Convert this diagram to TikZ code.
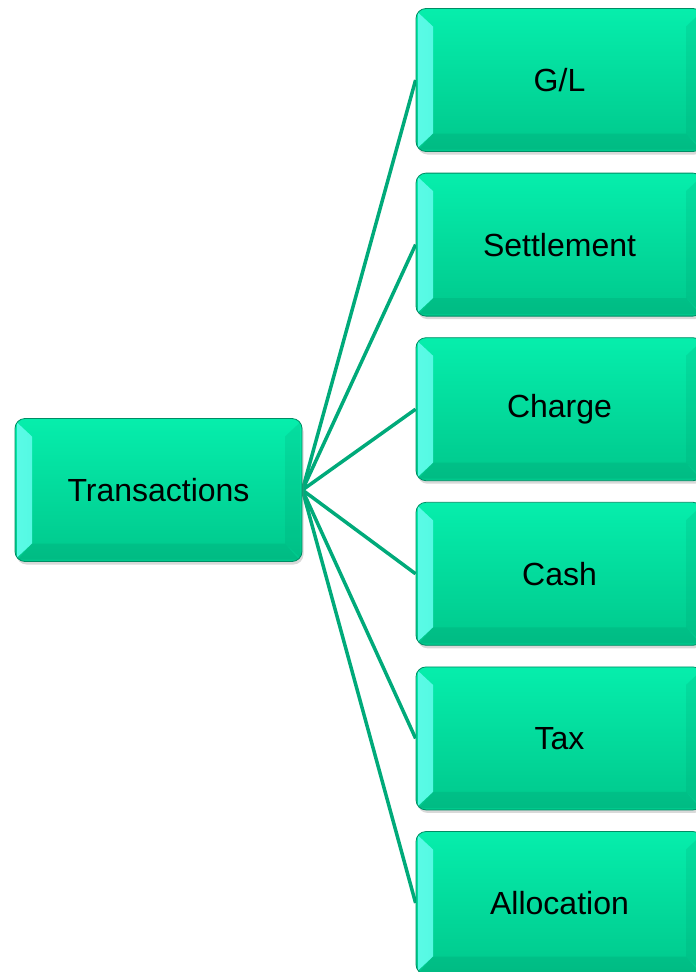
\documentclass[tikz,border=0pt]{standalone}
\usepackage{fontspec}
\setmainfont{Liberation Sans}
\usetikzlibrary{positioning, shadows, backgrounds}
\definecolor{Ctop}{RGB}{6,238,172}
\definecolor{Cbot}{RGB}{0,200,140}
\definecolor{Cbdr}{RGB}{0,140,100}
\definecolor{Cedge}{RGB}{90,250,230}
\definecolor{Clink}{RGB}{0,170,122}
\tikzset{
  B/.style={
    draw=Cbdr, line width=0.8pt, top color=Ctop, bottom color=Cbot,
    rounded corners=10pt, minimum width=287pt, minimum height=143pt,
    inner sep=0pt, font=\fontsize{32}{36}\selectfont,
    drop shadow={shadow xshift=1.5pt, shadow yshift=-3pt, opacity=0.3},
    path picture={
      % left bevel
      \shade[sharp corners, left color=Cedge, right color=Ctop]
        ([xshift=2pt,yshift=-4pt]path picture bounding box.north west)
        -- ([xshift=17pt,yshift=-18pt]path picture bounding box.north west)
        -- ([xshift=17pt,yshift=18pt]path picture bounding box.south west)
        -- ([xshift=2pt,yshift=4pt]path picture bounding box.south west) -- cycle;
      % right bevel
      \fill[sharp corners, Cbdr, opacity=0.15]
        ([xshift=-2pt,yshift=-4pt]path picture bounding box.north east)
        -- ([xshift=-17pt,yshift=-18pt]path picture bounding box.north east)
        -- ([xshift=-17pt,yshift=18pt]path picture bounding box.south east)
        -- ([xshift=-2pt,yshift=4pt]path picture bounding box.south east) -- cycle;
      % bottom bevel
      \fill[sharp corners, Cbdr, opacity=0.2]
        ([xshift=17pt,yshift=18pt]path picture bounding box.south west)
        -- ([xshift=-17pt,yshift=18pt]path picture bounding box.south east)
        -- ([xshift=-3pt,yshift=2pt]path picture bounding box.south east)
        -- ([xshift=3pt,yshift=2pt]path picture bounding box.south west) -- cycle;
    }
  },
  ln/.style={draw=Clink, line width=3.5pt}
}

\begin{document}
\begin{tikzpicture}[x=1pt, y=-1pt]
\useasboundingbox (0,0) rectangle (696,972);

% ─────────────────────────────────────────────────────────────────────────────
%  Root
% ─────────────────────────────────────────────────────────────────────────────
\node[B] (tr) at (158.5, 490) {Transactions};

% ─────────────────────────────────────────────────────────────────────────────
%  Transaction types
% ─────────────────────────────────────────────────────────────────────────────
\node[B] (gl) at (559.5, 80) {G/L};
\node[B, below=20.8pt of gl]  (set)   {Settlement};
\node[B, below=20.8pt of set] (chg)   {Charge};
\node[B, below=20.8pt of chg] (cash)  {Cash};
\node[B, below=20.8pt of cash] (tax)  {Tax};
\node[B, below=20.8pt of tax] (alloc) {Allocation};

% ─────────────────────────────────────────────────────────────────────────────
%  Links
% ─────────────────────────────────────────────────────────────────────────────
\begin{scope}[on background layer]
  \foreach \n in {gl, set, chg, cash, tax, alloc}
    \draw[ln] (tr.east) -- (\n.west);
\end{scope}

\end{tikzpicture}
\end{document}
